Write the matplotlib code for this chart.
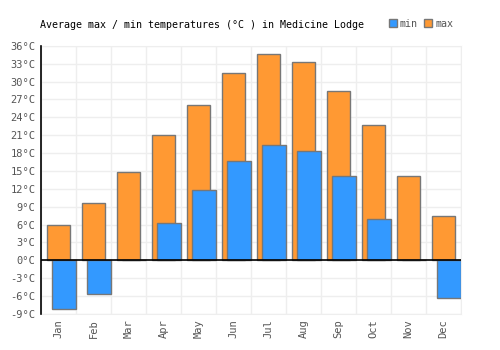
#!/usr/bin/env python

import numpy as np
from matplotlib import pyplot as plt
from matplotlib.patches import Patch

months = ['Jan', 'Feb', 'Mar', 'Apr', 'May', 'Jun',
          'Jul', 'Aug', 'Sep', 'Oct', 'Nov', 'Dec']
t_max = [6.0, 9.7, 14.8, 21.0, 26.1, 31.5, 34.7, 33.3, 28.4, 22.7, 14.1, 7.5]
t_min = [-8.1, -5.6, 0.0, 6.2, 11.8, 16.6, 19.3, 18.3, 14.1, 7.0, 0.0, -6.3]
y_ticks = list(range(-9, 37, 3))

plt.rcParams['font.family'] = ['DejaVu Sans Mono']

fig = plt.figure(figsize=(5, 3.5), dpi=100)
ax = fig.add_axes([0.082, 0.103, 0.84, 0.766])

x = np.arange(len(months))
ax.bar(x + 0.17, t_max, width=0.66, align='edge', color='#ff9933',
       edgecolor='#777777', linewidth=1, zorder=3)
ax.bar(x + 0.31, t_min, width=0.69, align='edge', color='#3399ff',
       edgecolor='#777777', linewidth=1, zorder=4)

ax.set_xlim(0, len(months))
ax.set_ylim(-9, 36)
ax.set_yticks(y_ticks)
ax.set_yticklabels(['%d°C' % t for t in y_ticks])
ax.set_xticks(x + 0.5)
ax.set_xticklabels(months, rotation=90)
ax.set_xticks(np.arange(len(months) + 1), minor=True)

ax.grid(True, axis='y', color='#eeeeee', linewidth=1, zorder=0)
ax.grid(True, axis='x', which='minor', color='#eeeeee', linewidth=1, zorder=0)
ax.tick_params(axis='both', which='both', length=0, labelsize=7.5,
               labelcolor='#555555', pad=4)
ax.axhline(0, color='black', linewidth=1.2, zorder=5)

for side in ['top', 'right', 'bottom']:
    ax.spines[side].set_color('#eeeeee')
ax.spines['left'].set_color('black')
ax.spines['left'].set_linewidth(1.2)
ax.spines['left'].set_zorder(6)

fig.text(0.08, 0.93, 'Average max / min temperatures (°C ) in Medicine Lodge',
         fontsize=7.2, color='black', va='center')

handles = [Patch(facecolor='#3399ff', edgecolor='#777777', label='min'),
           Patch(facecolor='#ff9933', edgecolor='#777777', label='max')]
fig.legend(handles=handles, loc='center right', bbox_to_anchor=(0.906, 0.932),
           ncol=2, frameon=False, fontsize=7.2, handlelength=0.8,
           handleheight=0.8, handletextpad=0.3, columnspacing=0.6,
           labelcolor='#555555', borderaxespad=0, borderpad=0)

plt.savefig('out.png', dpi=100)
